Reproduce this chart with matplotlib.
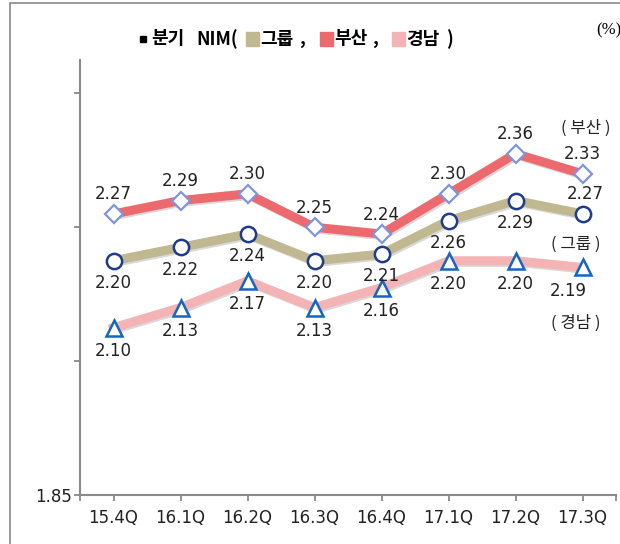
import matplotlib
matplotlib.use("Agg")
import matplotlib.pyplot as plt
import matplotlib.patches as patches
import matplotlib.patheffects as pe

# data
quarters = ["15.4Q", "16.1Q", "16.2Q", "16.3Q", "16.4Q", "17.1Q", "17.2Q", "17.3Q"]
busan = [2.27, 2.29, 2.30, 2.25, 2.24, 2.30, 2.36, 2.33]
group = [2.20, 2.22, 2.24, 2.20, 2.21, 2.26, 2.29, 2.27]
gyeongnam = [2.10, 2.13, 2.17, 2.13, 2.16, 2.20, 2.20, 2.19]

# label offsets in points (dx, dy)
busan_off = [(0, 14)] * 8
group_off = [(0, -16)] * 7 + [(2, 14)]
gyeong_off = [(0, -17)] * 7 + [(-10, -17)]

KR = ["Noto Sans CJK KR", "DejaVu Sans"]
txt_col = "#222222"

fig = plt.figure(figsize=(6.2, 5.44), dpi=100)
ax = fig.add_axes([80 / 620, 1 - 495 / 544, 536 / 620, 435 / 544])

# outer frame
fig.add_artist(patches.Rectangle((10 / 620, -0.1), 1.2, 1.1 - 3 / 544,
                                 transform=fig.transFigure, fill=False,
                                 edgecolor="#8a8a8a", lw=1.2))

x = list(range(len(quarters)))
shadow = [pe.SimpleLineShadow(offset=(1.2, -1.2), alpha=0.15), pe.Normal()]

ax.plot(x, gyeongnam, color="#f4b3b5", lw=6.5, solid_joinstyle="miter",
        path_effects=shadow, zorder=2)
ax.plot(x, group, color="#c0b890", lw=6.5, solid_joinstyle="miter",
        path_effects=shadow, zorder=2)
ax.plot(x, busan, color="#ec6a6e", lw=6.5, solid_joinstyle="miter",
        path_effects=shadow, zorder=2)

ax.plot(x, busan, ls="none", marker="D", ms=9, mfc="white", mec="#7d95dc",
        mew=1.6, zorder=3)
ax.plot(x, group, ls="none", marker="o", ms=11, mfc="white", mec="#1f3b8c",
        mew=1.8, zorder=3)
ax.plot(x, gyeongnam, ls="none", marker="^", ms=12, mfc="white", mec="#1466c0",
        mew=1.8, zorder=3)

for vals, offs in ((busan, busan_off), (group, group_off), (gyeongnam, gyeong_off)):
    for i, v in enumerate(vals):
        dx, dy = offs[i]
        ax.annotate(f"{v:.2f}", (i, v), xytext=(dx, dy), textcoords="offset points",
                    ha="center", va="center", fontsize=12, color=txt_col)

# series names on the right
ax.annotate("( 부산 )", (7, busan[-1]), xytext=(2, 33), textcoords="offset points",
            ha="center", va="center", fontsize=12, color=txt_col, family=KR)
ax.annotate("( 그룹 )", (7, group[-1]), xytext=(-5, -22), textcoords="offset points",
            ha="center", va="center", fontsize=12, color=txt_col, family=KR)
ax.annotate("( 경남 )", (7, gyeongnam[-1]), xytext=(-5, -40), textcoords="offset points",
            ha="center", va="center", fontsize=12, color=txt_col, family=KR)

ax.set_xlim(-0.5, 7.5)
ax.set_ylim(1.85, 2.50)
ax.set_xticks(x)
ax.set_xticklabels(quarters, fontsize=12, color=txt_col)
ax.set_xticks([-0.5, 7.5], minor=True)
ax.set_yticks([1.85, 2.05, 2.25, 2.45])
ax.set_yticklabels(["1.85", "", "", ""], fontsize=12, color=txt_col)
ax.tick_params(axis="both", which="both", direction="out", length=4,
               width=1.3, color="#8a8a8a", pad=6)
ax.tick_params(axis="y", pad=2)
for s in ("top", "right"):
    ax.spines[s].set_visible(False)
for s in ("left", "bottom"):
    ax.spines[s].set_color("#8a8a8a")
    ax.spines[s].set_linewidth(1.5)

# title with coloured legend squares, pieces placed at pixel x positions
ty = 1 - 39 / 544
fig.add_artist(patches.Rectangle((140 / 620, ty - 3 / 544), 6 / 620, 6 / 544,
                                 transform=fig.transFigure, color="black"))
pieces = [("분기", 151), ("NIM(", 196), ("그룹", 260), (",", 299),
          ("부산", 334), (",", 372), ("경남", 406), (")", 446)]
for s, px in pieces:
    fig.text(px / 620, ty, s, fontsize=13, fontweight="bold", va="center", family=KR)
squares = [("#c0b890", 246), ("#ec6a6e", 320), ("#f4b3b5", 392)]
for col, px in squares:
    fig.add_artist(patches.Rectangle((px / 620, ty - 6.5 / 544), 13 / 620, 13 / 544,
                                     transform=fig.transFigure, color=col))

fig.text(596 / 620, 1 - 30 / 544, "(%)", fontsize=12, family="Liberation Serif",
         ha="left", va="center")

fig.savefig("out.png", dpi=100)
